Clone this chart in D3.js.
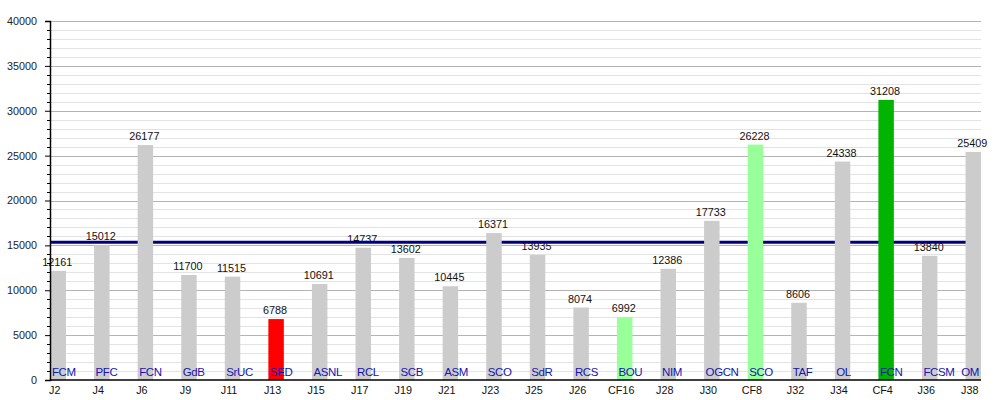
<!DOCTYPE html>
<html><head><meta charset="utf-8">
<script src="https://cdn.jsdelivr.net/npm/d3@7"></script>
<style>
html,body{margin:0;padding:0;background:#fff;}
svg{display:block;font-family:"Liberation Sans",Arial,Helvetica,sans-serif;}
</style></head>
<body><svg id="chart" width="1000" height="400"></svg>
<script>
const matchdays = ["J2","J4","J6","J9","J11","J13","J15","J17","J19","J21","J23","J25","J26","CF16","J28","J30","CF8","J32","J34","CF4","J36","J38"];
const opponents = ["FCM","PFC","FCN","GdB","SrUC","SED","ASNL","RCL","SCB","ASM","SCO","SdR","RCS","BOU","NIM","OGCN","SCO","TAF","OL","FCN","FCSM","OM"];
const attendance = [12161,15012,26177,11700,11515,6788,10691,14737,13602,10445,16371,13935,8074,6992,12386,17733,26228,8606,24338,31208,13840,25409];
const kinds = ["league","league","league","league","league","leagueMin","league","league","league","league","league","league","league","cup","league","league","cup","league","league","cupMax","league","league"];
const yTicks = [0,5000,10000,15000,20000,25000,30000,35000,40000];

const svg = d3.select("#chart");
const L = 50, R = 981, B = 380, T = 21;

const x = d3.scaleBand().domain(matchdays).range([L + 0.5, R]).paddingInner(0.645).paddingOuter(0);
const y = d3.scaleLinear().domain([0, 40000]).range([B, T]);
const color = d3.scaleOrdinal().domain(["league","leagueMin","cup","cupMax"]).range(["#cccccc","#ff0000","#99ff99","#00b400"]);

const data = matchdays.map((m, i) => ({m, opp: opponents[i], v: attendance[i], k: kinds[i]}));

// minor grid
const minor = d3.range(1000, 40001, 1000).filter(v => v % 5000 !== 0);
svg.append("g").selectAll("line").data(minor).join("line")
  .attr("x1", L).attr("x2", R).attr("y1", d => Math.round(y(d)) + 0.5).attr("y2", d => Math.round(y(d)) + 0.5)
  .attr("stroke", "#e3e3e3").attr("stroke-width", 1);
// major grid
svg.append("g").selectAll("line").data(yTicks.filter(v => v > 0)).join("line")
  .attr("x1", L).attr("x2", R).attr("y1", d => Math.round(y(d)) + 0.5).attr("y2", d => Math.round(y(d)) + 0.5)
  .attr("stroke", "#b4b4b4").attr("stroke-width", 1);

// value labels
svg.append("g").selectAll("text").data(data).join("text")
  .attr("x", d => x(d.m) + x.bandwidth() / 2 - 1)
  .attr("y", d => y(d.v) - 5)
  .attr("text-anchor", "middle")
  .attr("font-size", "10.8px").attr("fill", "#111")
  .text(d => d.v);

// average line
const avg = d3.mean(attendance);
svg.append("line")
  .attr("x1", L).attr("x2", R).attr("y1", y(avg)).attr("y2", y(avg))
  .attr("stroke", "#000080").attr("stroke-width", 3);

// bars
svg.append("g").selectAll("rect").data(data).join("rect")
  .attr("x", d => x(d.m)).attr("width", x.bandwidth())
  .attr("y", d => y(d.v)).attr("height", d => B - y(d.v))
  .attr("fill", d => color(d.k));

// opponent labels
svg.append("g").selectAll("text").data(data).join("text")
  .attr("x", d => x(d.m) + 1.5)
  .attr("y", 375.5)
  .attr("text-anchor", "start")
  .attr("font-size", "11.5px").attr("letter-spacing", "-0.4px").attr("fill", "#1414b0")
  .text(d => d.opp)
  .each(function() {
    const w = this.getComputedTextLength();
    const sx = +this.getAttribute("x");
    if (sx + w > R - 2) this.setAttribute("x", R - 2 - w);
  });

// y axis
const yAxis = d3.axisLeft(y).tickValues(yTicks).tickSize(5).tickPadding(8).tickFormat(d3.format("d"));
const gy = svg.append("g").attr("transform", `translate(${L},0)`).call(yAxis);
gy.select(".domain").attr("stroke", "#000").attr("stroke-width", 1.5);
gy.selectAll("text").attr("font-size", "10.8px").attr("fill", "#222").attr("font-family", "Liberation Sans, Arial, sans-serif");
gy.selectAll(".tick line").attr("stroke", "#000");
// minor ticks
svg.append("g").selectAll("line").data(minor).join("line")
  .attr("x1", L - 3).attr("x2", L).attr("y1", d => Math.round(y(d)) + 0.5).attr("y2", d => Math.round(y(d)) + 0.5)
  .attr("stroke", "#000").attr("stroke-width", 1);

// x axis
const xAxis = d3.axisBottom(x).tickSize(0).tickPadding(6);
const gx = svg.append("g").attr("transform", `translate(0,${B})`).call(xAxis);
gx.select(".domain").attr("stroke", "#000").attr("stroke-width", 1.5).attr("d", `M${L},0H${R}`);
gx.selectAll("text").attr("font-size", "10.8px").attr("fill", "#111").attr("font-family", "Liberation Sans, Arial, sans-serif")
  .attr("dx", -3.5);
</script></body></html>
